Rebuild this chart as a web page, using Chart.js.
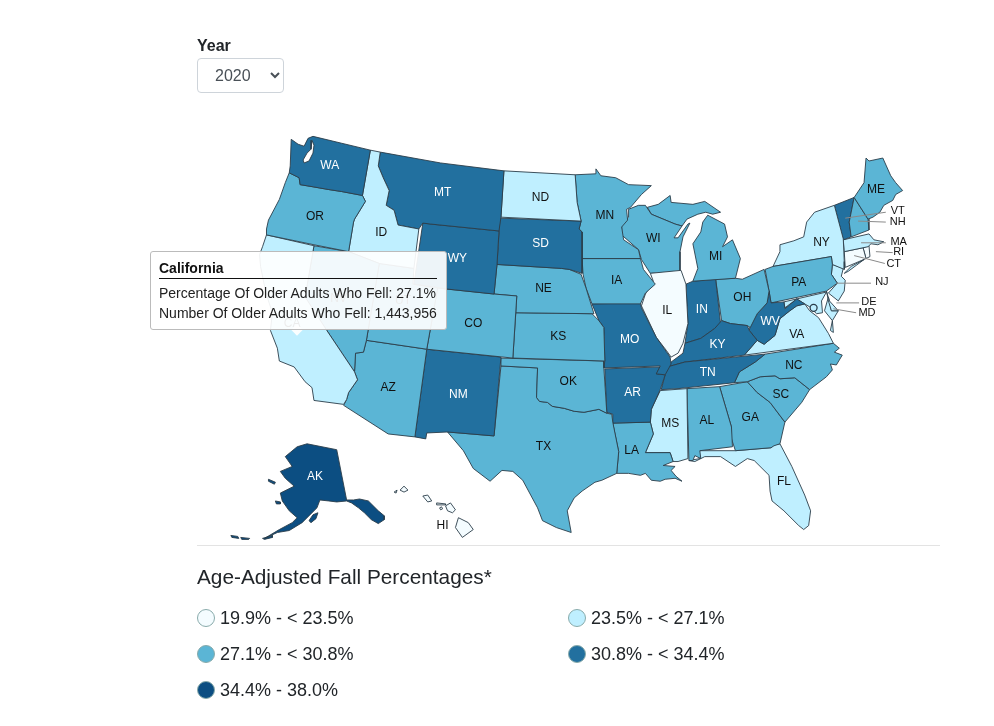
<!DOCTYPE html>
<html lang="en">
<head>
<meta charset="UTF-8">
<title>Age-Adjusted Fall Percentages</title>
<script src="https://cdn.jsdelivr.net/npm/chart.js"></script>
<style>
    html, body { margin: 0; padding: 0; background: #fff; }
    body { width: 994px; height: 726px; position: relative; overflow: hidden; font-family: "Liberation Sans", Arial, sans-serif; color: #212529; }
    #mapChart { position: absolute; left: 0; top: 0; }
    .abs { position: absolute; white-space: nowrap; }
    #yearLabel { left: 197px; top: 37px; font-size: 16px; font-weight: bold; line-height: 18px; }
    #year { position: absolute; left: 197px; top: 58px; width: 87px; height: 35px; padding: 0 0 0 13px; font: 16px "Liberation Sans", Arial, sans-serif; color: #495057; background: #fff; border: 1px solid #ced4da; border-radius: 4px; }
    #rule { left: 197px; top: 545px; width: 743px; height: 1px; background: #e3e3e3; }
    #legendTitle { left: 197px; top: 564px; font-size: 20.8px; line-height: 25px; }
    .swatch { position: absolute; width: 16px; height: 16px; border-radius: 50%; border: 1px solid #8aa; }
    .item { font-size: 18px; line-height: 22px; }
    #tip { left: 150px; top: 251px; width: 297px; height: 79px; box-sizing: border-box; background: rgba(255,255,255,.92); border: 1px solid #bbb; border-radius: 3px; font-size: 14px; color: #222; }
    #tip b { position: absolute; left: 8px; top: 8px; font-size: 14px; line-height: 16px; color: #111; }
    #tip i { position: absolute; left: 8px; top: 26px; width: 278px; height: 1px; background: #111; }
    #tip span { position: absolute; left: 8px; line-height: 18px; }
    #tipArrow { left: 293px; top: 326px; width: 8px; height: 8px; background: rgba(255,255,255,.92); transform: rotate(45deg); }
</style>
</head>
<body>
<canvas id="mapChart" width="994" height="726"></canvas>
<div class="abs" id="yearLabel">Year</div>
<select id="year"><option>2020</option></select>
<div class="abs" id="tipArrow"></div>
<div class="abs" id="tip">
    <b>California</b><i></i>
    <span style="top:32px">Percentage Of Older Adults Who Fell: 27.1%</span>
    <span style="top:52px">Number Of Older Adults Who Fell: 1,443,956</span>
</div>
<div class="abs" id="rule"></div>
<div class="abs" id="legendTitle">Age-Adjusted Fall Percentages*</div>
<div id="legend"></div>

<script>
// state outlines, in map units
const WA = [[311,133],[340,140],[369,147],[361,193],[340,189],[327,187],[310,184],[298,182],[297,175],[287,170],[288,163],[289,136],[296,141],[302,143],[306,135]];
const OR = [[287,170],[297,175],[298,182],[310,184],[327,187],[340,189],[361,193],[364,199],[353,217],[352,220],[347,250],[312,243],[264,233],[264,227],[266,218],[277,197],[283,180]];
const CA = [[264,233],[312,244],[303,296],[325,330],[353,372],[356,380],[347,393],[345,400],[342,405],[312,401],[310,388],[303,382],[292,367],[277,361],[275,348],[268,330],[270,312],[266,300],[262,285],[258,265],[257,253],[260,245]];
const NV = [[312,244],[347,250],[378,262],[365,340],[362,352],[354,353],[353,372],[325,330],[303,296]];
const ID = [[369,147],[379,149],[377,163],[382,175],[388,188],[385,203],[393,208],[397,223],[418,227],[413,267],[378,262],[347,250],[352,220],[353,217],[364,199],[361,193]];
const MT = [[379,149],[440,160],[504,168],[501,215],[499,229],[430,222],[422,221],[418,227],[397,223],[393,208],[385,203],[388,188],[382,175],[377,163]];
const WY = [[422,221],[430,222],[499,229],[497,263],[494,293],[447,288],[413,283]];
const UT = [[378,262],[413,267],[412,283],[437,287],[426,349],[365,340]];
const CO = [[437,287],[494,293],[517,295],[513,358],[426,349]];
const AZ = [[365,340],[426,349],[414,438],[387,435],[342,406],[345,400],[347,393],[356,380],[353,372],[354,353],[362,352]];
const NM = [[426,349],[501,357],[494,437],[447,433],[426,434],[425,440],[414,438]];
const ND = [[504,168],[576,172],[578,200],[582,219],[501,215]];
const SD = [[500,216],[582,219],[580,227],[583,230],[583,272],[570,268],[562,267],[497,263]];
const NE = [[497,263],[562,267],[570,268],[582,273],[587,287],[595,313],[516,312],[517,295],[494,293]];
const KS = [[516,312],[593,313],[600,320],[605,327],[606,361],[513,358]];
const OK = [[501,358],[605,361],[605,368],[608,414],[600,410],[585,413],[575,412],[565,409],[553,407],[548,403],[540,402],[537,398],[538,368],[501,366]];
const TX = [[501,366],[538,368],[537,398],[540,402],[548,403],[553,407],[565,409],[575,412],[585,413],[600,410],[608,414],[613,415],[614,423],[620,453],[618,475],[603,482],[596,484],[583,493],[575,500],[568,513],[572,535],[557,530],[543,523],[538,510],[523,482],[513,473],[502,472],[490,483],[473,470],[463,452],[447,433],[494,437]];
const MN = [[576,172],[597,171],[597,166],[602,173],[617,175],[630,182],[653,183],[643,192],[632,205],[628,207],[629,218],[623,225],[625,238],[640,248],[642,257],[583,257],[583,230],[580,227],[582,219],[578,200]];
const IA = [[583,257],[642,257],[645,268],[657,283],[647,292],[642,303],[593,303],[587,287],[584,273]];
const MO = [[593,303],[642,302],[643,307],[658,337],[672,357],[673,364],[667,375],[658,374],[662,366],[605,368],[606,361],[605,327],[600,320]];
const AR = [[606,369],[662,367],[658,374],[667,375],[662,390],[653,410],[652,423],[614,424],[614,415],[608,413]];
const LA = [[614,424],[652,423],[655,435],[647,454],[672,454],[675,463],[665,467],[677,468],[673,472],[678,478],[684,483],[677,480],[667,481],[662,483],[653,482],[647,475],[642,477],[630,475],[618,475],[620,453]];
const MS = [[662,391],[689,389],[690,460],[680,463],[675,463],[672,454],[647,454],[655,435],[652,423],[653,410]];
const AL = [[689,389],[722,387],[734,428],[735,448],[702,452],[703,460],[697,457],[695,462],[691,462]];
const TN = [[663,390],[669,367],[687,362],[768,354],[758,362],[742,372],[737,383],[680,389]];
const KY = [[673,362],[685,353],[687,343],[703,338],[717,328],[724,320],[733,323],[750,325],[752,330],[760,340],[747,355],[687,362],[669,367]];
const IL = [[652,272],[683,269],[688,283],[690,323],[685,343],[680,353],[673,357],[668,350],[658,337],[643,305],[647,293],[655,280]];
const WI = [[630,207],[640,203],[647,203],[653,212],[677,222],[684,224],[676,236],[680,236],[690,222],[692,221],[685,235],[682,250],[682,270],[652,272],[643,258],[640,248],[623,233],[623,222],[630,215]];
const MI_upper = [[653,212],[649,205],[660,202],[672,193],[673,200],[695,202],[707,199],[723,210],[715,212],[708,210],[700,212],[689,217],[684,224],[677,222]];
const MI_lower = [[710,213],[727,222],[730,235],[725,245],[735,238],[743,257],[738,277],[695,280],[700,267],[695,242],[703,230],[705,220]];
const IN = [[688,283],[695,280],[718,278],[723,323],[717,328],[703,338],[687,343],[690,323]];
const OH = [[718,278],[738,277],[745,278],[767,268],[772,290],[770,302],[760,313],[753,327],[750,325],[733,323],[724,320]];
const WV = [[772,290],[774,302],[787,301],[788,308],[800,298],[808,303],[800,305],[793,310],[783,318],[778,335],[767,344],[760,340],[752,330],[753,325],[760,313],[770,302]];
const PA = [[768,268],[776,265],[835,255],[836,263],[835,273],[841,282],[830,290],[774,302],[772,290]];
const NY = [[776,265],[783,250],[783,243],[797,239],[807,235],[810,220],[818,210],[838,203],[847,237],[848,260],[848,268],[836,263],[835,255]];
const NY_long = [[848,272],[855,265],[868,258],[860,264],[852,270]];
const NJ = [[836,263],[847,267],[845,275],[849,279],[848,290],[842,300],[832,292],[841,282],[835,273]];
const DE = [[830,290],[833,300],[842,310],[835,310],[832,300]];
const MD = [[787,301],[830,291],[825,300],[826,312],[820,313],[813,306],[808,303],[800,298],[788,307]];
const MD_east = [[832,296],[835,310],[842,310],[836,320],[828,310]];
const VA = [[747,355],[760,340],[767,344],[778,335],[783,318],[793,310],[800,305],[808,303],[813,310],[822,317],[832,333],[837,343]];
const VA_east = [[836,320],[837,332],[834,330]];
const NC = [[768,354],[837,343],[843,348],[838,352],[846,355],[840,365],[834,364],[836,370],[830,377],[813,390],[798,378],[783,379],[778,376],[763,377],[750,382],[737,383],[742,372],[758,362]];
const SC = [[750,382],[763,377],[778,376],[783,379],[798,378],[813,390],[805,403],[788,423],[773,403],[760,393]];
const GA = [[722,387],[750,382],[760,393],[773,403],[788,423],[783,445],[777,447],[774,449],[738,452],[733,437],[734,428]];
const FL = [[691,462],[702,460],[701,452],[738,452],[774,449],[777,446],[783,445],[795,468],[808,497],[814,513],[812,528],[807,532],[802,528],[787,513],[775,503],[773,493],[772,477],[757,462],[750,460],[738,468],[723,458],[707,458],[697,463]];
const ME = [[870,155],[873,158],[887,155],[895,173],[900,180],[907,188],[900,192],[897,198],[888,203],[884,210],[877,215],[872,217],[858,195],[868,180]];
const NH = [[858,195],[872,217],[873,228],[855,235],[853,220]];
const VT = [[838,203],[858,195],[853,220],[855,235],[847,238]];
const MA = [[847,238],[873,232],[878,238],[888,240],[882,243],[875,242],[872,245],[848,250]];
const CT = [[848,250],[867,246],[870,257],[849,266]];
const RI = [[867,246],[873,244],[874,255],[870,257]];
const AK = [[283,458],[295,448],[305,445],[335,451],[345,502],[352,502],[358,501],[367,503],[377,513],[383,518],[383,522],[377,526],[370,522],[363,515],[357,510],[350,505],[345,503],[335,504],[327,503],[318,502],[315,510],[310,515],[300,525],[287,533],[275,535],[262,541],[277,532],[290,525],[295,520],[287,513],[280,503],[278,495],[292,488],[283,480],[278,473],[290,468]];
const AK_stlawrence = [[266,481],[273,484],[272,486],[266,483]];
const AK_nunivak = [[273,503],[278,504],[278,506],[274,506]];
const AK_kodiak = [[307,523],[311,517],[316,515],[314,521],[309,525]];
const AK_aleut1 = [[228,538],[235,539],[236,541],[229,540]];
const AK_aleut2 = [[238,540],[247,541],[246,542],[239,542]];
const AK_aleut3 = [[260,541],[270,538],[270,540],[262,542]];
const HI_big = [[455,530],[458,520],[468,525],[473,532],[462,540]];
const HI_maui = [[445,508],[450,505],[455,512],[452,515],[447,513]];
const HI_oahu = [[422,498],[427,497],[431,503],[427,504]];
const HI_kauai = [[399,492],[403,488],[407,492],[403,494]];
const HI_niihau = [[393,494],[396,492],[395,495]];
const HI_molokai = [[436,505],[445,506],[445,507],[436,507]];
const HI_lanai = [[439,510],[441,509],[442,511],[440,512]];
const puget = [[310,137],[309,146],[305,150],[301,157],[302,160],[307,158],[311,150],[312,142]];
const dcPoint = [[817,307]];

const stateCodes = ['WA','OR','CA','NV','ID','MT','WY','UT','CO','AZ','NM','ND','SD','NE','KS','OK','TX','MN','IA','MO','AR','LA','MS','AL','TN','KY','IL','WI','MI','IN','OH','WV','PA','NY','NJ','DE','MD','VA','NC','SC','GA','FL','ME','NH','VT','MA','CT','RI','AK','HI'];
// legend class of each state, same order as stateCodes
const stateBins = [3,2,1,2,1,3,3,2,2,2,3,1,3,2,2,2,2,2,2,3,3,2,1,2,3,3,0,2,2,3,2,3,2,1,1,1,1,1,2,2,2,1,2,2,3,1,0,0,4,0];
const stateParts = [[WA],[OR],[CA],[NV],[ID],[MT],[WY],[UT],[CO],[AZ],[NM],[ND],[SD],[NE],[KS],[OK],[TX],[MN],[IA],[MO],[AR],[LA],[MS],[AL],[TN],[KY],[IL],[WI],[MI_upper,MI_lower],[IN],[OH],[WV],[PA],[NY,NY_long],[NJ],[DE],[MD,MD_east],[VA,VA_east],[NC],[SC],[GA],[FL],[ME],[NH],[VT],[MA],[CT],[RI],
    [AK,AK_stlawrence,AK_nunivak,AK_kodiak,AK_aleut1,AK_aleut2,AK_aleut3],[HI_big,HI_maui,HI_oahu,HI_kauai,HI_niihau,HI_molokai,HI_lanai]];

const binLabels = ['19.9% - < 23.5%','23.5% - < 27.1%','27.1% - < 30.8%','30.8% - < 34.4%','34.4% - 38.0%'];
const binColors = ['#f4fcff','#bfefff','#5bb5d5','#22709f','#0c4e82'];

// where the state codes sit on the map
const labelCodes = ['WA','OR','ID','MT','ND','SD','WY','NE','CO','KS','MN','IA','MO','WI','MI','IL','IN','OH','KY','TN','WV','VA','NC','SC','GA','AL','MS','AR','LA','OK','TX','AZ','NM','FL','ME','PA','NY','AK','HI','CA','NV','UT'];
const labelX = [328,313,380,442,541,541,457,544,473,559,606,618,631,655,718,669,704,745,720,710,773,800,797,784,753,709,672,634,633,569,544,387,458,787,880,802,825,313,442,290,337,402];
const labelY = [163,215,231,190,195,242,257,288,323,336,214,279,339,237,255,310,309,297,344,373,321,334,366,395,418,422,425,393,452,382,448,388,395,483,187,281,241,478,528,323,298,300];
const smallCodes = ['VT','NH','MA','RI','CT','NJ','DE','MD'];
const smallX = [902,902,903,903,898,886,873,871];
const smallY = [209,220,240,250,262,281,301,312];
const leaders = [[[849,216],[890,210]],[[862,219],[890,220]],[[865,241],[890,241]],[[880,250],[897,251]],[[858,254],[889,262]],[[840,282],[875,282]],[[840,302],[863,302]],[[837,308],[860,312]]];

const toXY = pts => pts.map(p => ({ x: p[0], y: p[1] }));
const closed = pts => toXY(pts.concat([pts[0]]));

const datasets = [];
// leaders and the dc dot go on top, chart.js draws the first dataset last
datasets.push({ data: toXY(dcPoint), showLine: false, pointRadius: 3.5, pointBorderWidth: 1.3, pointBorderColor: '#2b3d4a', pointBackgroundColor: binColors[1] });
leaders.forEach(l => datasets.push({ data: toXY(l), showLine: true, borderColor: '#8a8a8a', borderWidth: 1, pointRadius: 0 }));
datasets.push({ data: closed(puget), showLine: true, fill: 'shape', backgroundColor: '#fff', borderColor: '#2b3d4a', borderWidth: 0.9, pointRadius: 0 });
stateCodes.forEach((code, i) => {
    stateParts[i].forEach(part => {
        datasets.push({
            label: code,
            data: closed(part),
            showLine: true,
            fill: 'shape',
            tension: 0,
            backgroundColor: binColors[stateBins[i]],
            borderColor: '#2b3d4a',
            borderWidth: 0.9,
            pointRadius: 0
        });
    });
});

const stateLabels = {
    id: 'stateLabels',
    afterDatasetsDraw(chart) {
        const { ctx, scales } = chart;
        ctx.save();
        ctx.textAlign = 'center';
        ctx.textBaseline = 'middle';
        ctx.font = '12px "Liberation Sans", Arial, sans-serif';
        labelCodes.forEach((code, i) => {
            const bin = stateBins[stateCodes.indexOf(code)];
            ctx.fillStyle = bin >= 3 ? '#fff' : '#111';
            ctx.fillText(code, scales.x.getPixelForValue(labelX[i]), scales.y.getPixelForValue(labelY[i]));
        });
        ctx.font = '11px "Liberation Sans", Arial, sans-serif';
        ctx.fillStyle = '#111';
        smallCodes.forEach((code, i) => {
            ctx.fillText(code, scales.x.getPixelForValue(smallX[i]), scales.y.getPixelForValue(smallY[i]));
        });
        ctx.restore();
    }
};

new Chart(document.getElementById('mapChart'), {
    type: 'scatter',
    data: { datasets },
    options: {
        responsive: false,
        animation: false,
        layout: { padding: 0 },
        plugins: { legend: { display: false }, tooltip: { enabled: false } },
        scales: {
            x: { type: 'linear', min: 0, max: 994, display: false },
            y: { type: 'linear', min: 0, max: 726, reverse: true, display: false }
        }
    },
    plugins: [stateLabels]
});

// legend under the map
const legendX = [197, 568, 197, 568, 197];
const legendY = [618, 618, 654, 654, 690];
const legend = document.getElementById('legend');
binLabels.forEach((text, i) => {
    const dot = document.createElement('div');
    dot.className = 'swatch';
    dot.style.left = legendX[i] + 'px';
    dot.style.top = (legendY[i] - 9) + 'px';
    dot.style.background = binColors[i];
    legend.appendChild(dot);
    const item = document.createElement('div');
    item.className = 'abs item';
    item.style.left = (legendX[i] + 23) + 'px';
    item.style.top = (legendY[i] - 11) + 'px';
    item.textContent = text;
    legend.appendChild(item);
});
</script>
</body>
</html>
